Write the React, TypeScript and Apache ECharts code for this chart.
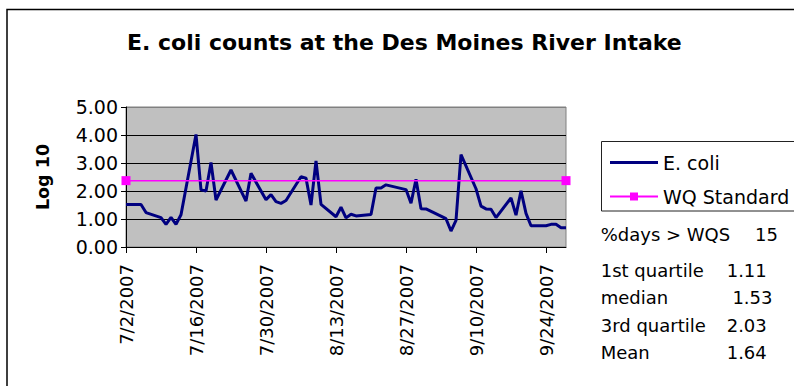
import React, { useEffect, useRef } from "react";
import * as echarts from "echarts";

// Sample dates and E. coli counts (log10)
const sampleDates = [
  "7/2/2007", "7/3/2007", "7/5/2007", "7/6/2007", "7/9/2007", "7/10/2007", "7/11/2007", "7/12/2007", "7/13/2007",
  "7/16/2007", "7/17/2007", "7/18/2007", "7/19/2007", "7/20/2007", "7/23/2007", "7/26/2007", "7/27/2007",
  "7/30/2007", "7/31/2007", "8/1/2007", "8/2/2007", "8/3/2007", "8/6/2007", "8/7/2007", "8/8/2007", "8/9/2007", "8/10/2007",
  "8/13/2007", "8/14/2007", "8/15/2007", "8/16/2007", "8/17/2007", "8/20/2007", "8/21/2007", "8/22/2007", "8/23/2007",
  "8/27/2007", "8/28/2007", "8/29/2007", "8/30/2007", "8/31/2007", "9/4/2007", "9/5/2007", "9/6/2007", "9/7/2007",
  "9/10/2007", "9/11/2007", "9/12/2007", "9/13/2007", "9/14/2007", "9/17/2007", "9/18/2007", "9/19/2007", "9/20/2007", "9/21/2007",
  "9/24/2007", "9/25/2007", "9/26/2007", "9/27/2007", "9/28/2007",
];
const ecoliLog10 = [
  1.52, 1.52, 1.52, 1.23, 1.05, 0.81, 1.06, 0.81, 1.15,
  4.02, 2.04, 2.0, 3.02, 1.68, 2.75, 1.64, 2.63,
  1.69, 1.87, 1.62, 1.56, 1.66, 2.51, 2.46, 1.5, 3.07, 1.52,
  1.08, 1.42, 1.04, 1.17, 1.11, 1.16, 2.11, 2.11, 2.22,
  2.05, 1.56, 2.42, 1.37, 1.36, 1.01, 0.57, 0.95, 3.3,
  2.08, 1.46, 1.36, 1.35, 1.05, 1.75, 1.14, 2.01, 1.2, 0.76,
  0.76, 0.81, 0.81, 0.69, 0.69,
];
const wqStandard = 2.37;
const yTicks = [0, 1, 2, 3, 4, 5];

const statHeader = "%days > WQS";
const statHeaderValue = "15";
const statLabels = ["1st quartile", "median", "3rd quartile", "Mean"];
const statValues = ["1.11", " 1.53", "2.03", "1.64"];

// Daily categories from 7/2/2007 to 9/28/2007
const categories: string[] = [];
for (let d = 0; d <= 88; d++) {
  const dt = new Date(2007, 6, 2 + d);
  categories.push(`${dt.getMonth() + 1}/${dt.getDate()}/${dt.getFullYear()}`);
}

export default function App() {
  const ref = useRef<HTMLDivElement>(null);
  useEffect(() => {
    if (!ref.current) return;
    const chart = echarts.init(ref.current, null, { renderer: "svg" });
    const ecoliData = categories.map((c) => {
      const i = sampleDates.indexOf(c);
      return i >= 0 ? ecoliLog10[i] : null;
    });
    const wqData = categories.map((c, i) => (i === 0 || i === categories.length - 1 ? wqStandard : null));
    const font = "DejaVu Sans";

    const graphics: any[] = [
      {
        type: "rect",
        shape: { x: 7, y: 9.5, width: 900, height: 500 },
        style: { fill: "none", stroke: "#000", lineWidth: 1.5 },
        silent: true,
      },
      {
        type: "rect",
        shape: { x: 601.5, y: 141.5, width: 300, height: 69.5 },
        style: { fill: "none", stroke: "#222", lineWidth: 1 },
        silent: true,
      },
      {
        type: "text",
        x: 600.7,
        y: 234,
        style: { text: statHeader, fontSize: 18, fontFamily: font, fill: "#000", verticalAlign: "middle" },
      },
      {
        type: "text",
        x: 755,
        y: 234,
        style: { text: statHeaderValue, fontSize: 18, fontFamily: font, fill: "#000", verticalAlign: "middle" },
      },
    ];
    const rowYs = [270, 297.5, 325, 352.5];
    statLabels.forEach((l, i) => {
      graphics.push({
        type: "text",
        x: 600.7,
        y: rowYs[i],
        style: { text: l, fontSize: 18, fontFamily: font, fill: "#000", verticalAlign: "middle" },
      });
      graphics.push({
        type: "text",
        x: 726.7,
        y: rowYs[i],
        style: { text: statValues[i], fontSize: 18, fontFamily: font, fill: "#000", verticalAlign: "middle" },
      });
    });

    chart.setOption({
      animation: false,
      backgroundColor: "#fff",
      title: {
        text: "E. coli counts at the Des Moines River Intake",
        left: 127,
        top: 31,
        padding: 0,
        textStyle: { fontFamily: font, fontWeight: "bold", fontSize: 22, color: "#000" },
      },
      legend: {
        orient: "vertical",
        left: 609,
        top: 153,
        padding: 0,
        itemGap: 15,
        itemWidth: 48,
        itemHeight: 10,
        textStyle: { fontFamily: font, fontSize: 19, color: "#000" },
        data: [
          { name: "E. coli", icon: "path://M0,0H48V3H0Z" },
          { name: "WQ Standard" },
        ],
      },
      grid: {
        left: 126,
        top: 107,
        width: 440,
        height: 140,
        show: true,
        backgroundColor: "#C0C0C0",
        borderColor: "#808080",
        borderWidth: 1,
      },
      xAxis: {
        type: "category",
        data: categories,
        boundaryGap: false,
        axisLine: { lineStyle: { color: "#000", width: 1 } },
        axisTick: { interval: 13, length: 6, lineStyle: { color: "#000" } },
        axisLabel: {
          interval: 13,
          rotate: 90,
          margin: 17,
          fontFamily: font,
          fontSize: 18,
          color: "#000",
        },
        splitLine: { show: false },
      },
      yAxis: {
        type: "value",
        min: yTicks[0],
        max: yTicks[yTicks.length - 1],
        interval: 1,
        name: "Log 10",
        nameLocation: "middle",
        nameGap: 74,
        nameRotate: 90,
        nameTextStyle: { fontFamily: font, fontWeight: "bold", fontSize: 17.5, color: "#000" },
        axisLine: { show: true, lineStyle: { color: "#000", width: 1 } },
        axisTick: { show: true, length: 5, lineStyle: { color: "#000" } },
        axisLabel: {
          margin: 8,
          fontFamily: font,
          fontSize: 19,
          color: "#000",
          formatter: (v: number) => v.toFixed(2),
        },
        splitLine: {
          show: true,
          lineStyle: { color: ["#000", "#000", "#000", "#000", "#000", "#808080"], width: 1 },
        },
      },
      series: [
        {
          name: "E. coli",
          type: "line",
          data: ecoliData,
          connectNulls: true,
          symbol: "none",
          lineStyle: { color: "#000080", width: 3 },
          itemStyle: { color: "#000080" },
          z: 3,
        },
        {
          name: "WQ Standard",
          type: "line",
          data: wqData,
          connectNulls: true,
          symbol: "rect",
          symbolSize: 9,
          showSymbol: true,
          showAllSymbol: true,
          clip: false,
          lineStyle: { color: "#FF00FF", width: 1.5 },
          itemStyle: { color: "#FF00FF" },
          z: 4,
        },
      ],
      graphic: graphics,
    });
    return () => chart.dispose();
  }, []);
  return (
    <div
      ref={ref}
      style={{ position: "absolute", left: 0, top: 0, width: 794, height: 386 }}
    />
  );
}
